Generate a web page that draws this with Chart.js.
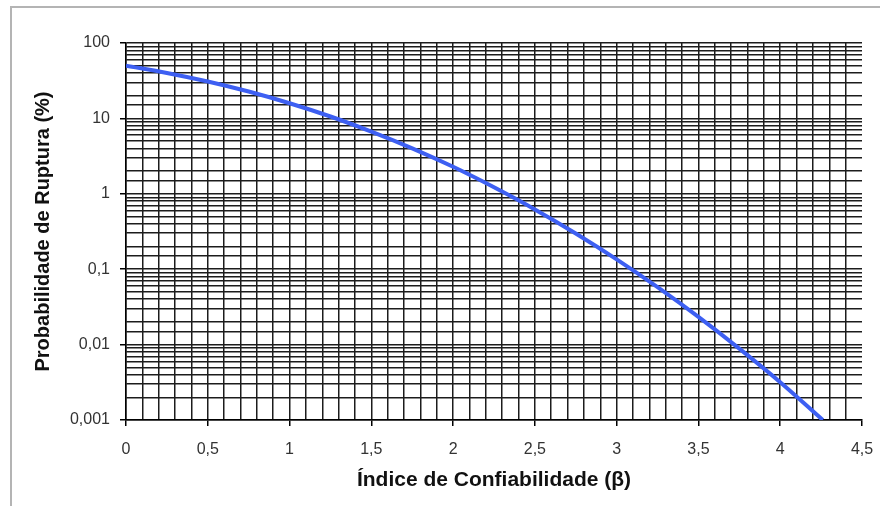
<!DOCTYPE html>
<html>
<head>
<meta charset="utf-8">
<script src="https://cdn.jsdelivr.net/npm/chart.js@4"></script>
<style>
    body { margin: 0; background: #fff; }
    #wrap { position: relative; width: 880px; height: 506px; overflow: hidden; }
    #frame {
        position: absolute; left: 10px; top: 6px; width: 900px; height: 600px;
        border-left: 2px solid #b4b4b4; border-top: 2px solid #b4b4b4;
        pointer-events: none;
    }
</style>
</head>
<body>
<div id="wrap">
    <canvas id="chart" width="880" height="506"></canvas>
    <div id="frame"></div>
</div>
<script>
// --- data ---
const beta = [0, 0.25, 0.5, 0.75, 1, 1.25, 1.5, 1.75, 2, 2.25, 2.5, 2.75, 3, 3.25, 3.5, 3.75, 4, 4.26];
const probRuptura = [50, 40.1, 30.9, 22.7, 15.9, 10.6, 6.68, 4.01, 2.28, 1.22, 0.621, 0.298, 0.135, 0.0577, 0.0233, 0.00884, 0.00317, 0.001];
const yTickLabels = ['0,001', '0,01', '0,1', '1', '10', '100'];

const fontFamily = '"Liberation Sans", Arial, sans-serif';
const gridColor = '#1c1c1c';

const isHalf = v => Math.abs(v * 2 - Math.round(v * 2)) < 1e-6;
const isDecade = v => Math.abs(Math.log10(v) - Math.round(Math.log10(v))) < 1e-6;

const points = beta.map((b, i) => ({ x: b, y: probRuptura[i] }));

new Chart(document.getElementById('chart'), {
    type: 'line',
    data: {
        datasets: [{
            data: points,
            borderColor: '#3d5ff2',
            borderWidth: 4,
            pointRadius: 0,
            cubicInterpolationMode: 'monotone',
            fill: false
        }]
    },
    options: {
        responsive: false,
        animation: false,
        layout: { padding: { left: 28, top: 43, right: 18, bottom: 13 } },
        plugins: { legend: { display: false }, tooltip: { enabled: false } },
        scales: {
            x: {
                type: 'linear',
                min: 0,
                max: 4.5,
                afterFit: scale => {
                    scale.height = 73;
                    scale.paddingLeft = 0;
                    scale.paddingRight = 0;
                },
                border: { color: '#000', width: 1.5 },
                grid: {
                    color: ctx => (ctx.tick && ctx.tick.value > 4.45) ? 'rgba(0,0,0,0)' : gridColor,
                    lineWidth: 1.5,
                    tickLength: 6,
                    tickColor: ctx => (ctx.tick && isHalf(ctx.tick.value)) ? '#000' : 'rgba(0,0,0,0)'
                },
                ticks: {
                    stepSize: 0.1,
                    autoSkip: false,
                    maxRotation: 0,
                    padding: 14,
                    color: '#333',
                    font: { family: fontFamily, size: 16 },
                    callback: v => isHalf(v) ? String(Math.round(v * 10) / 10).replace('.', ',') : ''
                },
                title: {
                    display: true,
                    text: 'Índice de Confiabilidade (β)',
                    color: '#111',
                    font: { family: fontFamily, size: 21, weight: 'bold' },
                    padding: { top: 4, bottom: 0 }
                }
            },
            y: {
                type: 'logarithmic',
                min: 0.001,
                max: 100,
                afterFit: scale => {
                    scale.width = 98;
                    scale.paddingTop = 0;
                    scale.paddingBottom = 0;
                },
                border: { color: '#000', width: 1.5 },
                grid: {
                    color: gridColor,
                    lineWidth: 1.5,
                    tickLength: 6,
                    tickColor: ctx => (ctx.tick && isDecade(ctx.tick.value)) ? '#000' : 'rgba(0,0,0,0)'
                },
                ticks: {
                    autoSkip: false,
                    padding: 10,
                    color: '#333',
                    font: { family: fontFamily, size: 16 },
                    callback: v => isDecade(v) ? yTickLabels[Math.round(Math.log10(v)) + 3] : ''
                },
                title: {
                    display: true,
                    text: 'Probabilidade de Ruptura (%)',
                    color: '#111',
                    font: { family: fontFamily, size: 20, weight: 'bold' },
                    padding: { top: 3, bottom: 0 }
                }
            }
        }
    }
});
</script>
</body>
</html>
